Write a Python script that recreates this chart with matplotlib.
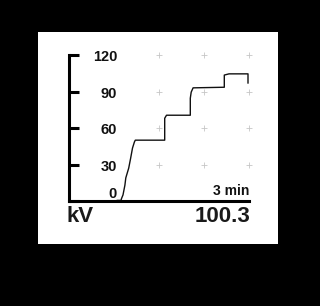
import matplotlib
matplotlib.use("Agg")
import matplotlib.pyplot as plt
from matplotlib.patches import Rectangle

plt.rcParams['font.family'] = ['Liberation Sans', 'DejaVu Sans']

# data (time in seconds, voltage in kV)
time_s = [48.3, 52.0, 52.5, 54.0, 55.9, 56.8, 59.7, 61.6, 63.5, 65.4, 66.3,
          95.7, 95.7, 97.5, 121.3, 121.3, 122.2, 124.1, 155.3, 155.3, 160.0,
          179.0, 179.0]
kv = [0.5, 0.5, 2.0, 5.0, 13.0, 19.0, 27.0, 35.0, 43.5, 48.5, 50.0,
      50.0, 68.0, 70.5, 70.5, 84.5, 89.5, 93.0, 93.5, 103.5, 104.5,
      104.5, 97.0]
y_ticks = [0, 30, 60, 90, 120]
grid_x = [90, 135, 180]
grid_y = [30, 60, 90, 120]
readout = "100.3"
unit = "kV"
span_label = "3 min"

W, H = 320, 306
fig = plt.figure(figsize=(W / 100, H / 100), dpi=100, facecolor='black')

# white display panel
panel = Rectangle((38 / W, 1 - 244 / H), 240 / W, 212 / H,
                  transform=fig.transFigure, facecolor='white',
                  edgecolor='none', zorder=-10)
fig.add_artist(panel)

ax = fig.add_axes([69 / W, 1 - 201 / H, 180 / W, 146 / H])
ax.set_zorder(5)
ax.patch.set_visible(False)
ax.set_xlim(0, 180)
ax.set_ylim(0, 120)
for s in ['top', 'right']:
    ax.spines[s].set_visible(False)
for s in ['left', 'bottom']:
    ax.spines[s].set_linewidth(2.2)
    ax.spines[s].set_color('black')

ax.set_xticks([])
ax.set_yticks(y_ticks)
ax.set_yticklabels([])
ax.tick_params(axis='y', direction='in', length=7, width=2.2, color='black')

# faint grid crosses
for gx in grid_x:
    ax.plot([gx] * len(grid_y), grid_y, ls='none', marker='+', ms=4,
            mew=0.6, color='#c6c6c6', clip_on=False)

ax.plot(time_s, kv, color='#111111', lw=1.0, clip_on=False)

for t in y_ticks:
    ypos = 6 if t == 0 else t - 2
    ax.text(48, ypos, str(t), ha='right', va='center', fontsize=10.5,
            fontweight='bold', color='#111111')

ax.text(180, 2.5, span_label, ha='right', va='bottom', fontsize=10,
        fontweight='bold', color='#111111')

fig.text(66 / W, 1 - 222 / H, unit, ha='left', va='baseline', fontsize=16,
         fontweight='bold', color='#1a1a1a', zorder=6)
fig.text(250 / W, 1 - 222 / H, readout, ha='right', va='baseline',
         fontsize=16, fontweight='bold', color='#1a1a1a', zorder=6)

fig.savefig('out.png', dpi=100, facecolor='black')
